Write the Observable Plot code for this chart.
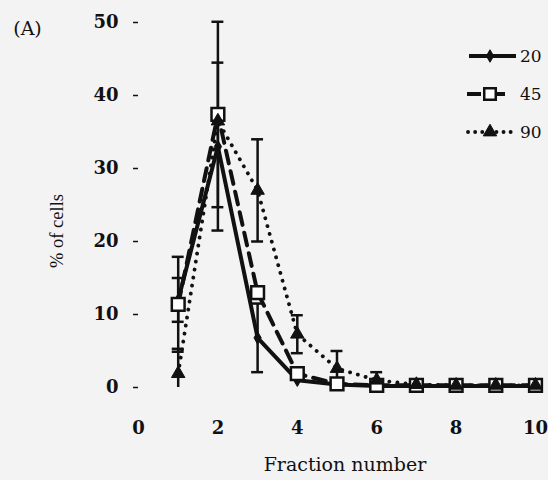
<!DOCTYPE html>
<html>
<head>
<meta charset="utf-8">
<script src="https://cdn.jsdelivr.net/npm/d3@7"></script>
<script src="https://cdn.jsdelivr.net/npm/@observablehq/plot@0.6"></script>
<style>
  html, body { margin: 0; padding: 0; background: #f3f3f3; }
  #wrap { position: relative; width: 548px; height: 480px; }
</style>
</head>
<body>
<div id="wrap"></div>
<script>
// ---- data ----
const fractions = [1, 2, 3, 4, 5, 6, 7, 8, 9, 10];
const seriesNames = ["20", "45", "90"];
const s20 = [12.0, 33.0, 6.8, 1.0, 0.4, 0.2, 0.2, 0.2, 0.2, 0.2];
const s45 = [11.4, 37.4, 13.0, 1.9, 0.5, 0.3, 0.3, 0.3, 0.3, 0.3];
const s90 = [1.9, 36.5, 27.0, 7.3, 2.6, 1.0, 0.4, 0.3, 0.3, 0.3];
const e20 = [3.0, 11.5, 4.7, 0, 0, 0, 0, 0, 0, 0];
const e45 = [6.5, 12.7, 0, 0, 0, 0, 0, 0, 0, 0];
const e90 = [3.4, 0, 7.0, 2.6, 2.4, 1.1, 0, 0, 0, 0];
const xTicks = [0, 2, 4, 6, 8, 10];
const yTicks = [0, 10, 20, 30, 40, 50];
const xLabel = "Fraction number";
const yLabel = "% of cells";
const panelLabel = "(A)";

const values = {"20": s20, "45": s45, "90": s90};
const errors = {"20": e20, "45": e45, "90": e90};

const rows = seriesNames.flatMap(s => fractions.map((f, i) => ({
  series: s, x: f, y: values[s][i], err: errors[s][i]
})));
const errRows = rows.filter(d => d.err > 0).map(d => {
  const lo = d.y - d.err;
  return {...d, lo: Math.max(0, lo), hi: d.y + d.err, loCap: lo > 0};
});
const capW = 0.15;
const bySeries = s => rows.filter(d => d.series === s);

const serif = "DejaVu Serif";

const plot = Plot.plot({
  width: 548,
  height: 480,
  marginLeft: 138,
  marginRight: 13,
  marginTop: 22,
  marginBottom: 93,
  style: {fontFamily: serif, fontSize: "18px", background: "transparent", color: "#111"},
  x: {domain: [0, 10]},
  y: {domain: [0, 50]},
  marks: [
    Plot.axisX({ticks: xTicks, tickSize: 0, tickPadding: 34, label: null, fontWeight: "bold", fontSize: 18}),
    Plot.axisY({ticks: yTicks, tickSize: 5, tickPadding: 15, label: null, fontWeight: "bold", fontSize: 18, strokeWidth: 1.5}),
    // lines
    Plot.line(bySeries("20"), {x: "x", y: "y", stroke: "#111", strokeWidth: 4}),
    Plot.line(bySeries("45"), {x: "x", y: "y", stroke: "#111", strokeWidth: 4, strokeDasharray: "13,8"}),
    Plot.line(bySeries("90"), {x: "x", y: "y", stroke: "#111", strokeWidth: 3.8, strokeDasharray: "0.1,8", strokeLinecap: "round"}),
    // error bars
    Plot.ruleX(errRows, {x: "x", y1: "lo", y2: "hi", stroke: "#111", strokeWidth: 2.5}),
    Plot.ruleY(errRows, {y: "hi", x1: d => d.x - capW, x2: d => d.x + capW, stroke: "#111", strokeWidth: 2.5}),
    Plot.ruleY(errRows.filter(d => d.loCap), {y: "lo", x1: d => d.x - capW, x2: d => d.x + capW, stroke: "#111", strokeWidth: 2.5}),
    // markers
    Plot.dot(bySeries("20"), {x: "x", y: "y", symbol: "diamond", r: 3.8, fill: "#111", stroke: "#111", strokeWidth: 1}),
    Plot.dot(bySeries("45"), {x: "x", y: "y", symbol: "square", r: 7.2, fill: "white", stroke: "#111", strokeWidth: 2.5}),
    Plot.dot(bySeries("90"), {x: "x", y: "y", symbol: "triangle", r: 5, fill: "#111", stroke: "#111", strokeWidth: 1}),
    // labels
    Plot.text([xLabel], {frameAnchor: "bottom", textAnchor: "middle", dx: 8, dy: 83, fontSize: 19, fontWeight: "normal", fill: "#111"}),
    Plot.text([yLabel], {frameAnchor: "left", textAnchor: "middle", lineAnchor: "middle", rotate: -90, dx: -81, dy: 26, fontFamily: "Liberation Serif", fontSize: 18.5, fontWeight: "normal", fill: "#111"}),
    Plot.text([panelLabel], {frameAnchor: "top-left", textAnchor: "middle", lineAnchor: "middle", dx: -111, dy: 6, fontSize: 19, fill: "#111"})
  ]
});

const wrap = document.getElementById("wrap");
wrap.appendChild(plot);

// legend overlay
const leg = d3.create("svg").attr("width", 548).attr("height", 480)
  .style("position", "absolute").style("left", "0px").style("top", "0px");
const rowsY = {"20": 56, "45": 94, "90": 132};
const sym = {"20": d3.symbolDiamond, "45": d3.symbolSquare, "90": d3.symbolTriangle};
const symSize = {"20": Math.PI * 3.8 * 3.8, "45": Math.PI * 6.5 * 6.5, "90": Math.PI * 5 * 5};
seriesNames.forEach(s => {
  const y = rowsY[s];
  const g = leg.append("g");
  if (s === "20") {
    g.append("line").attr("x1", 469).attr("x2", 516).attr("y1", y).attr("y2", y)
      .attr("stroke", "#111").attr("stroke-width", 4);
  } else if (s === "45") {
    g.append("line").attr("x1", 467).attr("x2", 481).attr("y1", y).attr("y2", y)
      .attr("stroke", "#111").attr("stroke-width", 4);
    g.append("line").attr("x1", 497).attr("x2", 505).attr("y1", y).attr("y2", y)
      .attr("stroke", "#111").attr("stroke-width", 4);
  } else {
    g.append("line").attr("x1", 468).attr("x2", 511).attr("y1", y).attr("y2", y)
      .attr("stroke", "#111").attr("stroke-width", 3.8).attr("stroke-dasharray", "0.1,7").attr("stroke-linecap", "round");
  }
  g.append("path").attr("d", d3.symbol(sym[s], symSize[s])())
    .attr("transform", `translate(490,${y})`)
    .attr("fill", s === "45" ? "white" : "#111").attr("stroke", "#111").attr("stroke-width", s === "45" ? 2.5 : 1);
  g.append("text").attr("x", 520).attr("y", y).attr("dy", "0.35em")
    .attr("font-family", serif).attr("font-size", 17).attr("fill", "#111").text(s);
});
wrap.appendChild(leg.node());
</script>
</body>
</html>
